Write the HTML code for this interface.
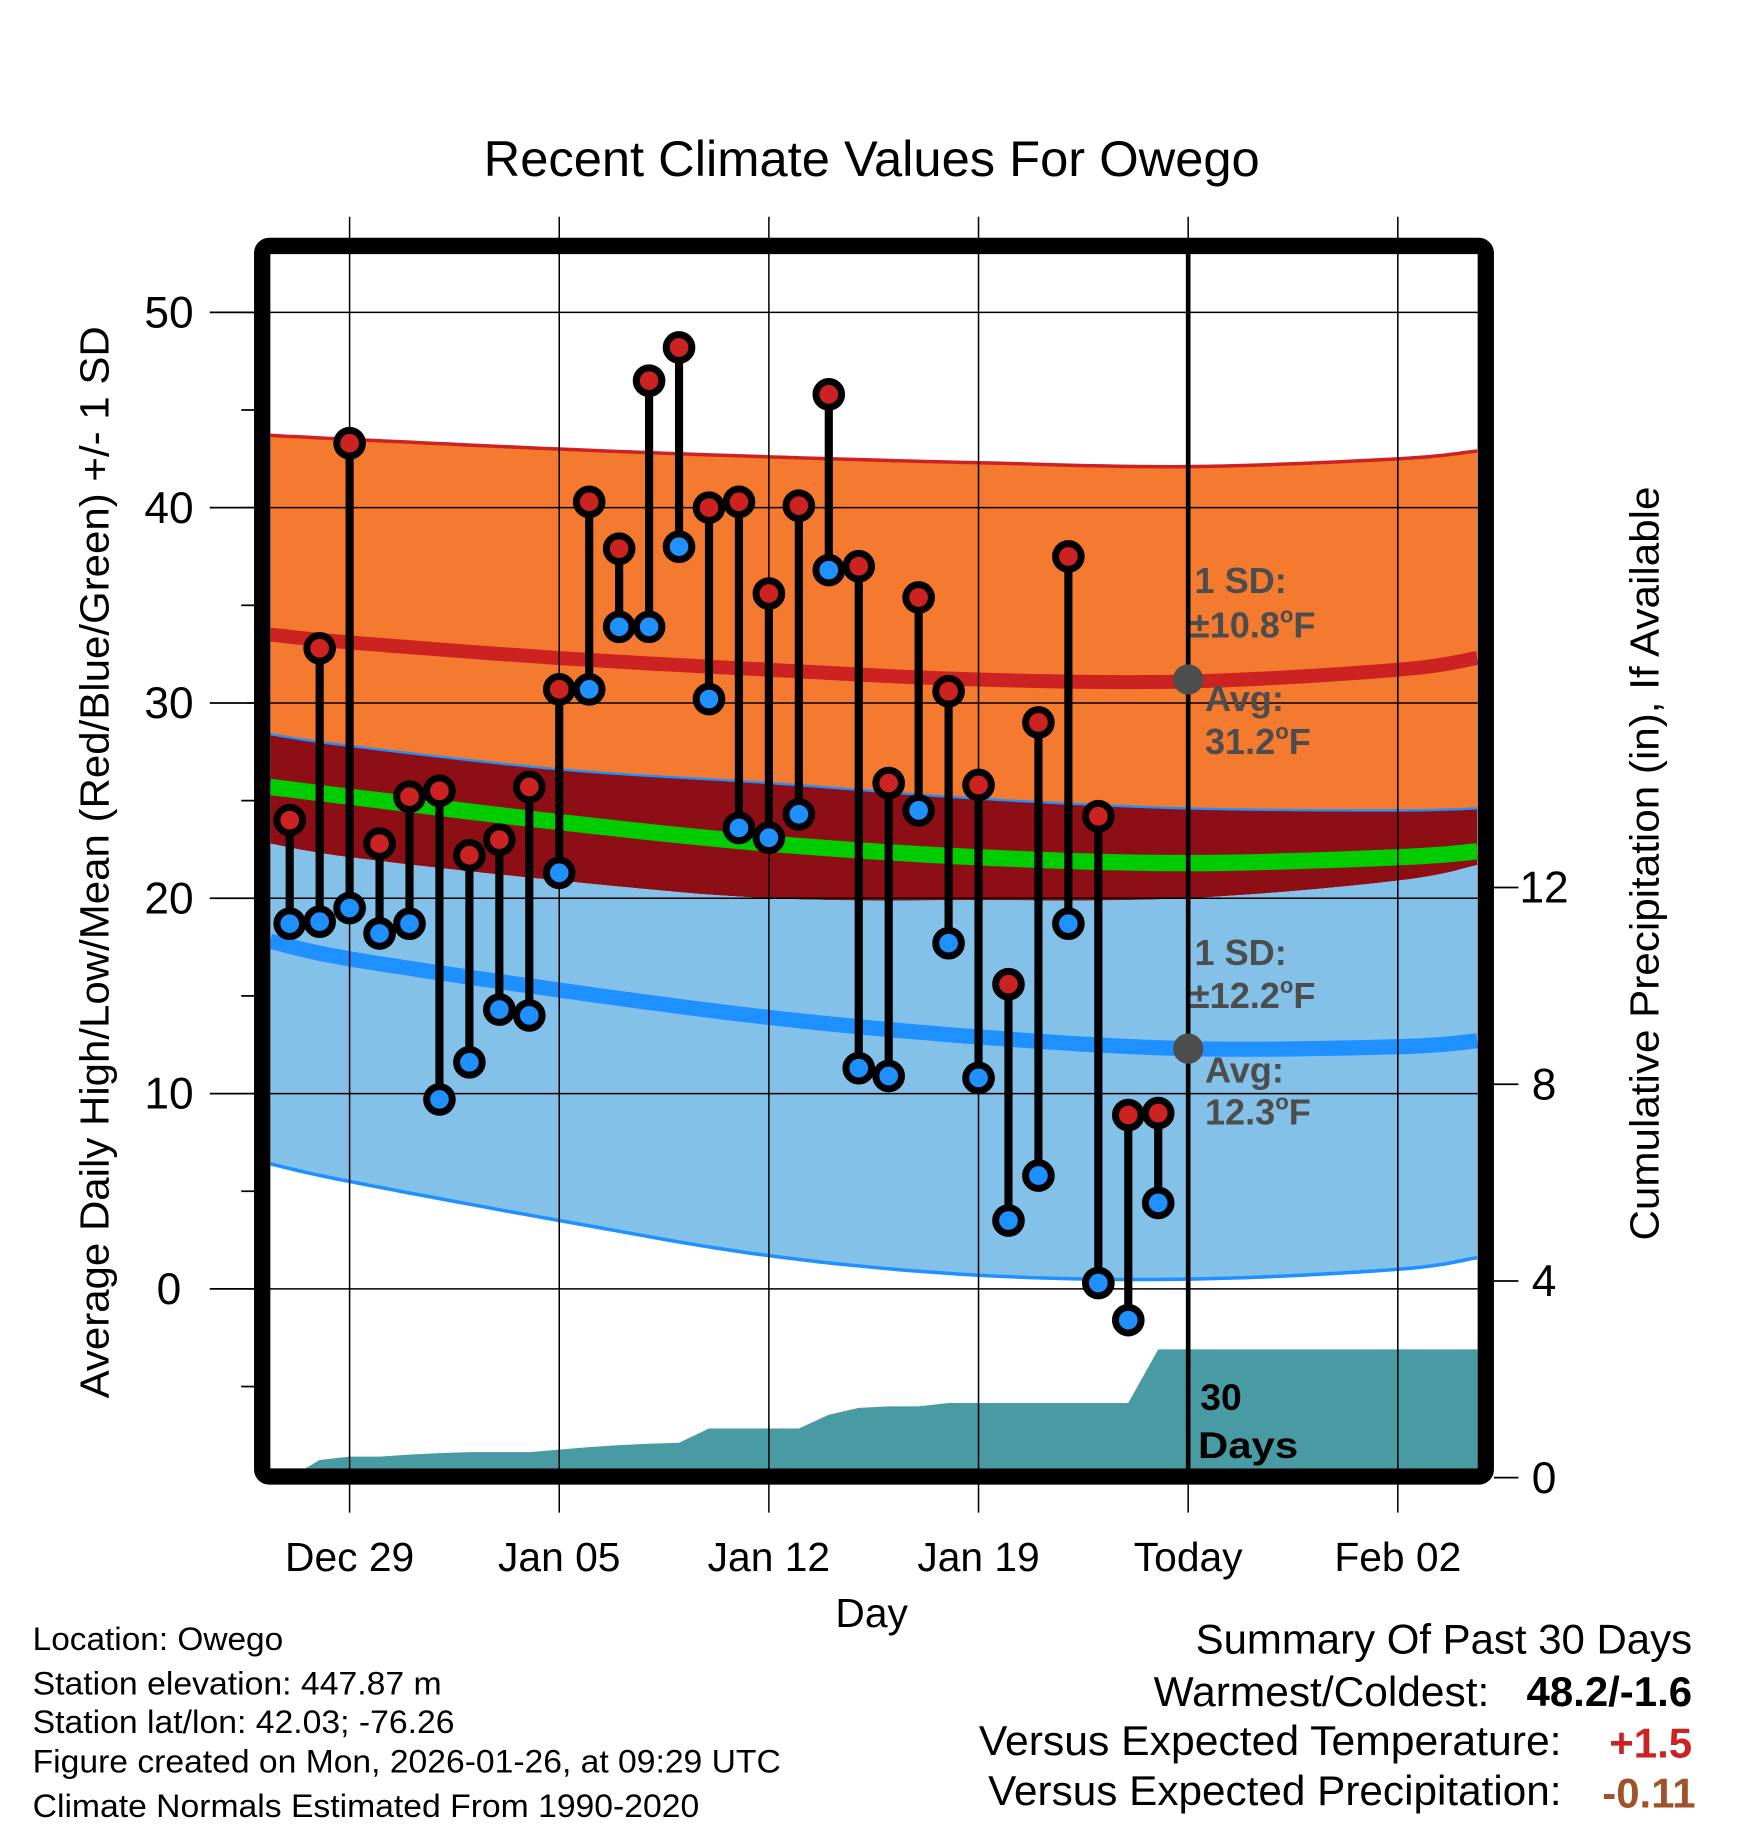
<!DOCTYPE html>
<html><head><meta charset="utf-8">
<style>
html,body{margin:0;padding:0;background:#fff;}
svg{display:block;}
text{font-family:"Liberation Sans",Arial,sans-serif;}
</style></head>
<body>
<svg id="chart" width="1748" height="1828" viewBox="0 0 1500 1568.6" xmlns="http://www.w3.org/2000/svg">
<defs><clipPath id="plotclip"><rect x="232" y="218" width="1036" height="1042"/></clipPath></defs>
<g id="fills" clip-path="url(#plotclip)"></g>
<g id="grid"></g>
<g id="marks"></g>
<rect x="225" y="211" width="1050" height="1056" rx="6" fill="none" stroke="#000" stroke-width="14"/>
<text x="748" y="151" font-size="43" text-anchor="middle" textLength="666" lengthAdjust="spacingAndGlyphs">Recent Climate Values For Owego</text>
<text transform="translate(93,740) rotate(-90)" font-size="35" text-anchor="middle" textLength="920" lengthAdjust="spacingAndGlyphs">Average Daily High/Low/Mean (Red/Blue/Green) +/- 1 SD</text>
<text transform="translate(1423,741) rotate(-90)" font-size="35" text-anchor="middle" textLength="647" lengthAdjust="spacingAndGlyphs">Cumulative Precipitation (in), If Available</text>
<text x="748" y="1396" font-size="35" text-anchor="middle">Day</text>
<g font-size="31" font-weight="bold" fill="#4d4d4d">
<text x="1025" y="509">1 SD:</text>
<text x="1021" y="547">±10.8<tspan font-size="19" dy="-13">o</tspan><tspan dy="13">F</tspan></text>
<text x="1034" y="610">Avg:</text>
<text x="1034" y="647">31.2<tspan font-size="19" dy="-13">o</tspan><tspan dy="13">F</tspan></text>
<text x="1025" y="828">1 SD:</text>
<text x="1021" y="865">±12.2<tspan font-size="19" dy="-13">o</tspan><tspan dy="13">F</tspan></text>
<text x="1034" y="929">Avg:</text>
<text x="1034" y="965">12.3<tspan font-size="19" dy="-13">o</tspan><tspan dy="13">F</tspan></text>
</g>
<g font-size="32" font-weight="bold" fill="#000">
<text x="1030" y="1210">30</text><text x="1028" y="1251" textLength="86" lengthAdjust="spacingAndGlyphs">Days</text>
</g>
<g font-size="28" fill="#000">
<text x="28" y="1416" textLength="215" lengthAdjust="spacingAndGlyphs">Location: Owego</text>
<text x="28" y="1454" textLength="351" lengthAdjust="spacingAndGlyphs">Station elevation: 447.87 m</text>
<text x="28" y="1487" textLength="362" lengthAdjust="spacingAndGlyphs">Station lat/lon: 42.03; -76.26</text>
<text x="28" y="1521" textLength="642" lengthAdjust="spacingAndGlyphs">Figure created on Mon, 2026-01-26, at 09:29 UTC</text>
<text x="28" y="1559" textLength="572" lengthAdjust="spacingAndGlyphs">Climate Normals Estimated From 1990-2020</text>
</g>
<g font-size="36" fill="#000" text-anchor="end">
<text x="1452" y="1419" textLength="426" lengthAdjust="spacingAndGlyphs">Summary Of Past 30 Days</text>
<text x="1278" y="1464" textLength="288" lengthAdjust="spacingAndGlyphs">Warmest/Coldest:</text>
<text x="1452" y="1464" font-weight="bold">48.2/-1.6</text>
<text x="1340" y="1506" textLength="500" lengthAdjust="spacingAndGlyphs">Versus Expected Temperature:</text>
<text x="1452" y="1508" font-weight="bold" fill="#cc2222">+1.5</text>
<text x="1340" y="1549" textLength="492" lengthAdjust="spacingAndGlyphs">Versus Expected Precipitation:</text>
<text x="1455" y="1551" font-weight="bold" fill="#a0522d">-0.11</text>
</g>
</svg>
<script>
// data: day offsets from Dec 27
const normDays = [-0.65, 2, 9, 16, 23, 30, 37, 39.65];
const highUpper = [43.7, 43.5, 43.0, 42.6, 42.3, 42.1, 42.5, 42.9];
const highMean  = [33.5, 33.1, 32.3, 31.7, 31.2, 31.1, 31.7, 32.3];
const highLower = [28.4, 27.8, 26.6, 25.9, 25.1, 24.6, 24.5, 24.6];
const avgMean   = [25.7, 25.2, 23.9, 22.8, 22.1, 21.8, 22.1, 22.4];
const lowUpper  = [22.8, 22.1, 20.9, 20.0, 19.9, 20.0, 20.9, 21.7];
const lowMean   = [17.8, 16.9, 15.3, 13.9, 12.9, 12.3, 12.4, 12.7];
const lowLower  = [6.4, 5.5, 3.5, 1.7, 0.7, 0.5, 1.0, 1.6];
const highs = [24.0,32.8,43.3,22.8,25.2,25.5,22.2,23.0,25.7,30.7,40.3,37.9,46.5,48.2,40.0,40.3,35.6,40.1,45.8,37.0,25.9,35.4,30.6,25.8,15.6,29.0,37.5,24.2,8.9,9.0];
const lows  = [18.7,18.8,19.5,18.2,18.7,9.7,11.6,14.3,14.0,21.3,30.7,33.9,33.9,38.0,30.2,23.6,23.1,24.3,36.8,11.3,10.9,24.5,17.7,10.8,3.5,5.8,18.7,0.3,-1.6,4.4];
const precip = [0.0,0.36,0.43,0.43,0.47,0.50,0.52,0.52,0.52,0.57,0.62,0.66,0.69,0.71,1.00,1.00,1.00,1.00,1.28,1.42,1.45,1.45,1.52,1.52,1.52,1.52,1.52,1.52,1.52,2.61];
const yTicks = [0,10,20,30,40,50];
const y2Ticks = [0,4,8,12];
const xTickDays = [2,9,16,23,30,37];
const xTickLabels = ["Dec 29","Jan 05","Jan 12","Jan 19","Today","Feb 02"];
const highAvgToday = 31.2, lowAvgToday = 12.3, todayDay = 30;

const NS="http://www.w3.org/2000/svg";
const X = d => 248.6 + d*25.7;
const Y = v => 1106 - v*16.76;
const Y2 = v => 1268 - v*42.2;
function el(tag, attrs, parent){const e=document.createElementNS(NS,tag);for(const k in attrs)e.setAttribute(k,attrs[k]);parent.appendChild(e);return e;}
// smooth interpolation (Catmull-Rom) sampled densely
function smooth(vals){
  const p=normDays.map((d,i)=>[X(d),Y(vals[i])]);
  const out=[];
  for(let i=0;i<p.length-1;i++){
    const p0=p[Math.max(0,i-1)],p1=p[i],p2=p[i+1],p3=p[Math.min(p.length-1,i+2)];
    for(let s=0;s<12;s++){
      const t=s/12,t2=t*t,t3=t2*t;
      const f=(a,b,c,d)=>0.5*((2*b)+(-a+c)*t+(2*a-5*b+4*c-d)*t2+(-a+3*b-3*c+d)*t3);
      out.push([f(p0[0],p1[0],p2[0],p3[0]),f(p0[1],p1[1],p2[1],p3[1])]);
    }
  }
  out.push(p[p.length-1]);
  return out;
}
function lineStr(p){return p.map(q=>q[0].toFixed(1)+","+q[1].toFixed(1)).join(" ");}
function band(upper, lower){return lineStr(smooth(upper).concat(smooth(lower).reverse()));}

const fills=document.getElementById('fills');
let e;
e=el('polygon',{points:band(highUpper,highLower),fill:'#f47a30'},fills);


e=el('polygon',{points:band(highLower,lowUpper),fill:'#8e0e15'},fills);


e=el('polygon',{points:band(lowUpper,lowLower),fill:'#83c1e8'},fills);


e=el('polyline',{points:lineStr(smooth(highUpper)),fill:'none',stroke:'#cc2222',"stroke-width":3},fills);


e=el('polyline',{points:lineStr(smooth(highLower)),fill:'none',stroke:'#1e90ff',"stroke-width":2},fills);


e=el('polyline',{points:lineStr(smooth(lowLower)),fill:'none',stroke:'#1e90ff',"stroke-width":3},fills);


e=el('polyline',{points:lineStr(smooth(highMean)),fill:'none',stroke:'#cc2222',"stroke-width":12},fills);


e=el('polyline',{points:lineStr(smooth(avgMean)),fill:'none',stroke:'#00cc00',"stroke-width":14},fills);


e=el('polyline',{points:lineStr(smooth(lowMean)),fill:'none',stroke:'#1e90ff',"stroke-width":13},fills);


// precipitation
let pp=precip.map((v,i)=>[X(i),Y2(v)]);
pp.push([1270,Y2(precip[precip.length-1])]);
pp.push([1270,1270]);pp.push([X(0),1270]);
e=el('polygon',{points:lineStr(pp),fill:'#489ba2'},fills);



const grid=document.getElementById('grid');
yTicks.forEach(v=>{
  e=el('line',{x1:212,x2:1268,y1:Y(v),y2:Y(v),stroke:'#000',"stroke-width":1.3},grid);
  
  
  e=el('line',{x1:180,x2:218,y1:Y(v),y2:Y(v),stroke:'#000',"stroke-width":1.5},grid);
  
  
  e=el('text',{x:145,y:Y(v)+13,"font-size":38,"text-anchor":"middle"},grid);
  e.textContent=v;
  
  
  if(v>0){
    e=el('line',{x1:207,x2:218,y1:Y(v-5),y2:Y(v-5),stroke:'#000',"stroke-width":1.5},grid);
    
    
  }
});
e=el('line',{x1:207,x2:218,y1:Y(-5),y2:Y(-5),stroke:'#000',"stroke-width":1.5},grid);


y2Ticks.forEach(v=>{
  e=el('line',{x1:1282,x2:1303,y1:Y2(v),y2:Y2(v),stroke:'#000',"stroke-width":1.5},grid);
  
  
  e=el('text',{x:1325,y:Y2(v)+13,"font-size":38,"text-anchor":"middle"},grid);
  e.textContent=v;
  
  
});
xTickDays.forEach((d,i)=>{
  e=el('line',{x1:X(d),x2:X(d),y1:186,y2:1298,stroke:'#000',"stroke-width":1.3},grid);
  
  
  e=el('text',{x:X(d),y:1348,"font-size":35,"text-anchor":"middle"},grid);
  e.textContent=xTickLabels[i];
  
  
});
e=el('line',{x1:X(todayDay),x2:X(todayDay),y1:218,y2:1260,stroke:'#000',"stroke-width":4},grid);


e=el('circle',{cx:X(todayDay),cy:Y(highAvgToday),r:13,fill:'#4d4d4d'},grid);


e=el('circle',{cx:X(todayDay),cy:Y(lowAvgToday),r:13,fill:'#4d4d4d'},grid);



const marks=document.getElementById('marks');
highs.forEach((h,i)=>{
  const x=X(i);
  e=el('line',{x1:x,x2:x,y1:Y(h),y2:Y(lows[i]),stroke:'#000',"stroke-width":7},marks);
  
  
});
highs.forEach((h,i)=>{
  const x=X(i);
  e=el('circle',{cx:x,cy:Y(h),r:11,fill:'#cc2222',stroke:'#000',"stroke-width":6},marks);
  
  
  e=el('circle',{cx:x,cy:Y(lows[i]),r:11,fill:'#1e90ff',stroke:'#000',"stroke-width":6},marks);
  
  
});
</script>
</body></html>
